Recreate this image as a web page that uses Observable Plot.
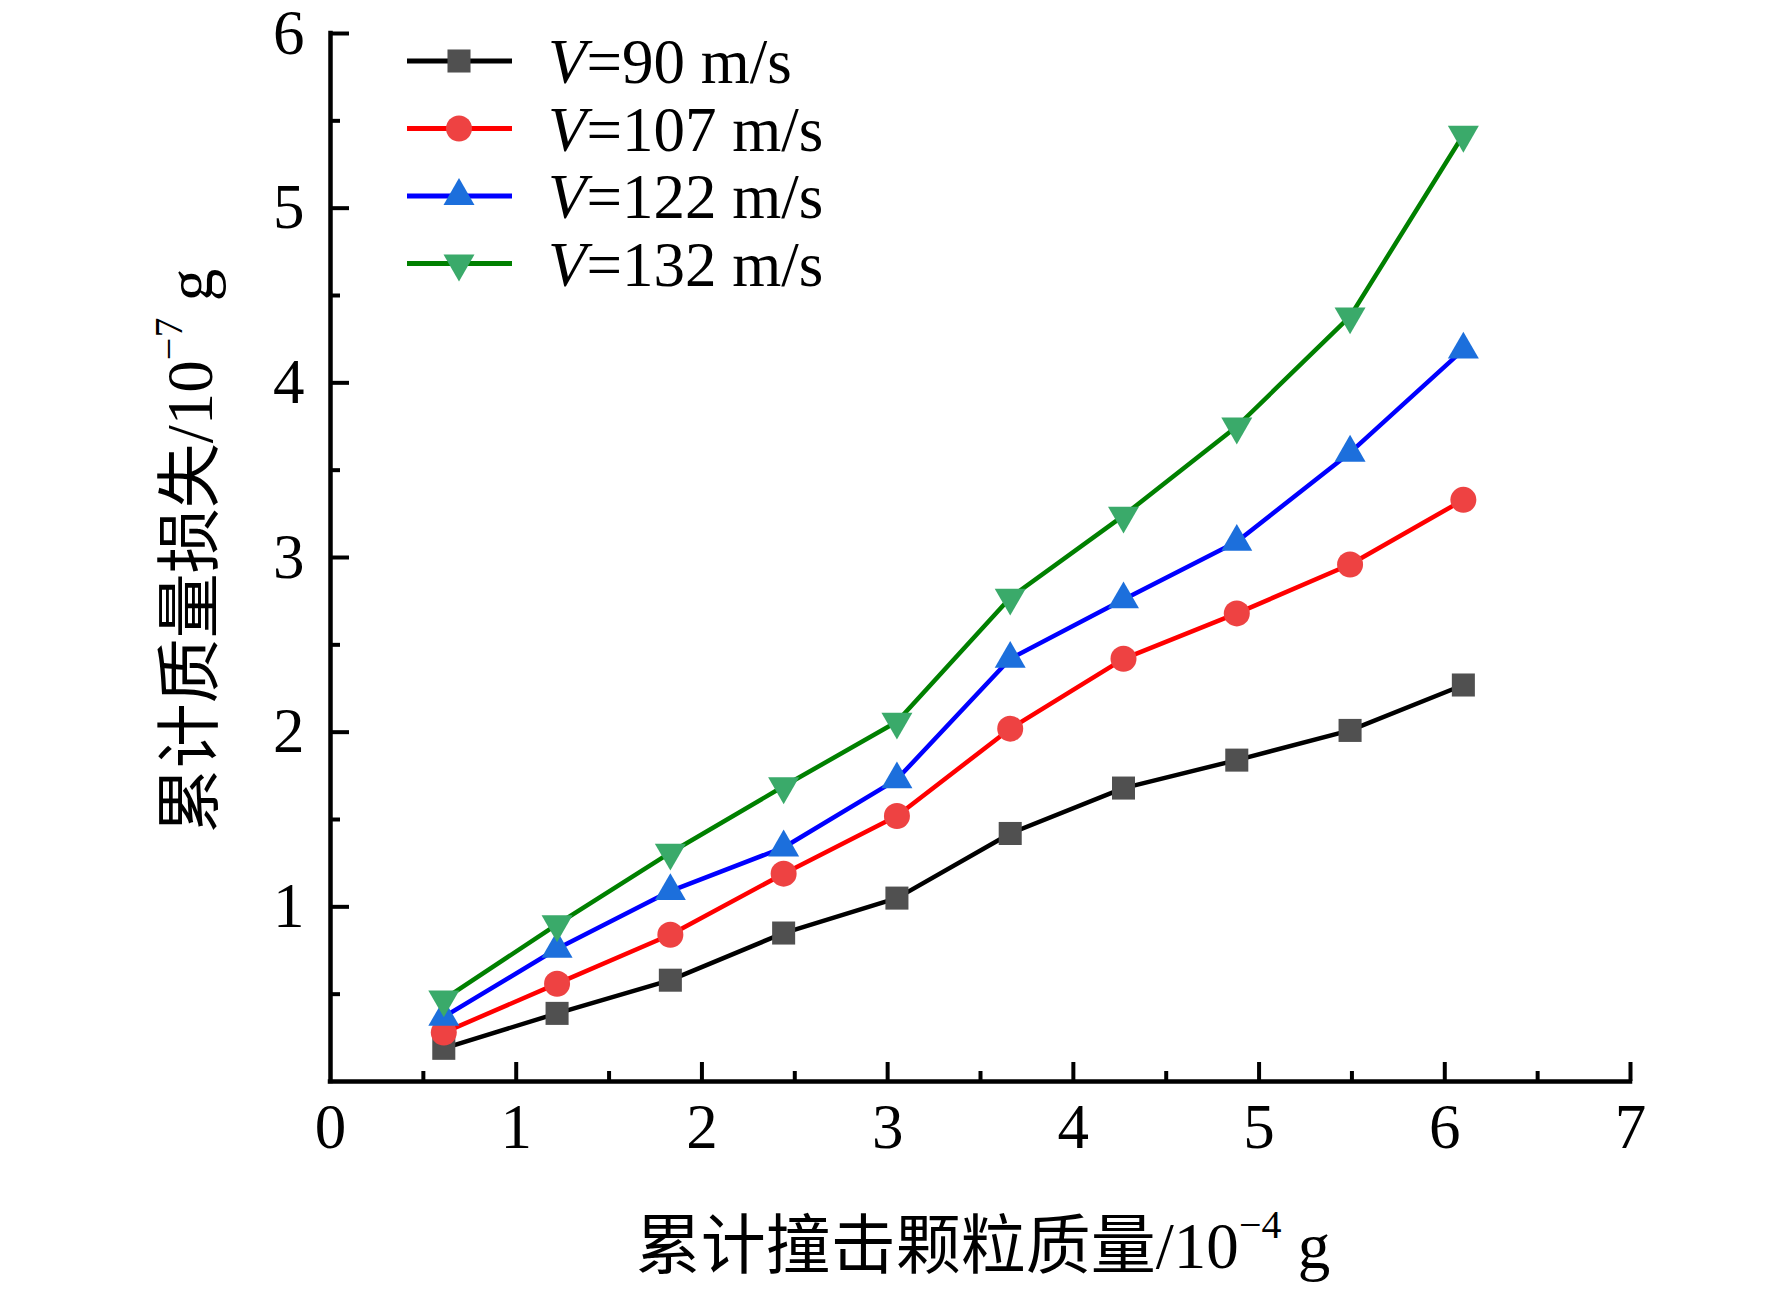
<!DOCTYPE html>
<html>
<head>
<meta charset="utf-8">
<script src="https://cdn.jsdelivr.net/npm/d3@7"></script>
<script src="https://cdn.jsdelivr.net/npm/@observablehq/plot@0.6"></script>
<style>
  body { margin: 0; background: #fff; }
  #chart svg { display: block; }
</style>
</head>
<body>
<div id="chart"></div>
<script>
// ---- data ----
const impactMass = [0.61, 1.22, 1.83, 2.44, 3.05, 3.66, 4.27, 4.88, 5.49, 6.10]; // 10^-4 g
const lossV90  = [0.19, 0.39, 0.58, 0.85, 1.05, 1.42, 1.68, 1.84, 2.01, 2.27];   // 10^-7 g
const lossV107 = [0.28, 0.56, 0.84, 1.19, 1.52, 2.02, 2.42, 2.68, 2.96, 3.33];
const lossV122 = [0.37, 0.76, 1.09, 1.34, 1.73, 2.42, 2.76, 3.09, 3.60, 4.19];
const lossV132 = [0.47, 0.90, 1.31, 1.69, 2.06, 2.77, 3.24, 3.75, 4.38, 5.42];
const seriesNames = ["90", "107", "122", "132"];
const xTickLabels = [0, 1, 2, 3, 4, 5, 6, 7];
const yTickLabels = [1, 2, 3, 4, 5, 6];
const xMinorTicks = [0.5, 1.5, 2.5, 3.5, 4.5, 5.5, 6.5];
const yMinorTicks = [0.5, 1.5, 2.5, 3.5, 4.5, 5.5];
const xLabelMain = "累计撞击颗粒质量/10";
const xLabelExp = "−4";
const yLabelMain = "累计质量损失/10";
const yLabelExp = "−7";
const unitLabel = "g";

// ---- styles ----
const lineColors = ["#000000", "#ff0000", "#0000ff", "#008000"];
const markFills  = ["#505050", "#ee4242", "#1c6fdc", "#3aaa6a"];
const markSymbols = ["square", "circle", "triangle", "triangle"];
const markRotate = [0, 0, 0, 180];
const markR = [13, 13, 11.5, 11.5];

const seriesValues = [lossV90, lossV107, lossV122, lossV132];
const rows = seriesNames.flatMap((name, i) =>
  impactMass.map((x, j) => ({ series: name, x, y: seriesValues[i][j] })));

const W = 1772, H = 1292;
const mL = 330, mR = 142, mT = 33, mB = 211;
const plotW = W - mL - mR, plotH = H - mT - mB;
const serif = "'Liberation Serif', 'Times New Roman', serif";
const cjk = "'Liberation Serif', 'Noto Sans CJK SC', serif";
const fs = 63;

const marks = [
  Plot.axisX(xTickLabels, { tickSize: 0, tickPadding: 22, fontSize: fs, label: null, tickFormat: d3.format("d") }),
  Plot.axisY(yTickLabels, { tickSize: 0, tickPadding: 26, fontSize: fs, label: null, tickFormat: d3.format("d") }),
  Plot.tickX(xTickLabels.filter(d => d > 0), { x: d => d, insetTop: plotH - 19, strokeWidth: 4, stroke: "#000" }),
  Plot.tickX(xMinorTicks, { x: d => d, insetTop: plotH - 10, strokeWidth: 4, stroke: "#000" }),
  Plot.tickY(yTickLabels, { y: d => d, insetRight: plotW - 19, strokeWidth: 4, stroke: "#000" }),
  Plot.tickY(yMinorTicks, { y: d => d, insetRight: plotW - 10, strokeWidth: 4, stroke: "#000" }),
  Plot.ruleX([0], { strokeWidth: 4.5, stroke: "#000", strokeLinecap: "square" }),
  Plot.ruleY([0], { strokeWidth: 4.5, stroke: "#000", strokeLinecap: "square" })
];
seriesNames.forEach((name, i) => {
  const data = rows.filter(d => d.series === name);
  marks.push(Plot.line(data, { x: "x", y: "y", stroke: lineColors[i], strokeWidth: 4.5 }));
});
seriesNames.forEach((name, i) => {
  const data = rows.filter(d => d.series === name);
  marks.push(Plot.dot(data, {
    x: "x", y: "y", symbol: markSymbols[i], fill: markFills[i], r: markR[i],
    rotate: markRotate[i], stroke: "none"
  }));
});

const chart = Plot.plot({
  width: W, height: H,
  marginLeft: mL, marginRight: mR, marginTop: mT, marginBottom: mB,
  style: { fontFamily: serif, fontSize: fs + "px", color: "#000", background: "#fff", overflow: "visible" },
  x: { domain: [0, 7] },
  y: { domain: [0, 6] },
  marks
});
document.getElementById("chart").append(chart);

// ---- axis titles & legend ----
const svg = d3.select(chart);

function addLabel(g, main, exp) {
  const t = g.append("text")
    .attr("text-anchor", "middle")
    .attr("font-size", 65)
    .attr("fill", "#000")
    .style("font-family", cjk);
  t.append("tspan").text(main);
  t.append("tspan").attr("font-size", 40).attr("dy", -30).style("font-family", serif).text(exp);
  t.append("tspan").attr("dy", 30).style("font-family", serif).text("\u00a0" + unitLabel);
  return t;
}
addLabel(svg.append("g").attr("transform", `translate(983,1268)`), xLabelMain, xLabelExp);
addLabel(svg.append("g").attr("transform", `translate(212,551) rotate(-90)`), yLabelMain, yLabelExp);

const lg = svg.append("g");
seriesNames.forEach((name, i) => {
  const cy = 61 + 67.5 * i;
  const row = lg.append("g").attr("transform", `translate(0,${cy})`);
  row.append("line").attr("x1", 407).attr("x2", 512).attr("y1", 0).attr("y2", 0)
    .attr("stroke", lineColors[i]).attr("stroke-width", 5);
  row.append("path")
    .attr("d", d3.symbol(d3["symbol" + markSymbols[i][0].toUpperCase() + markSymbols[i].slice(1)], Math.PI * markR[i] * markR[i])())
    .attr("transform", `translate(459,0) rotate(${markRotate[i]})`)
    .attr("fill", markFills[i]);
  const t = row.append("text").attr("x", 548).attr("y", 22).attr("text-anchor", "start")
    .attr("font-size", fs).attr("fill", "#000").style("font-family", serif);
  t.append("tspan").attr("font-style", "italic").text("V");
  t.append("tspan").text("=" + name + " m/s");
});
</script>
</body>
</html>
